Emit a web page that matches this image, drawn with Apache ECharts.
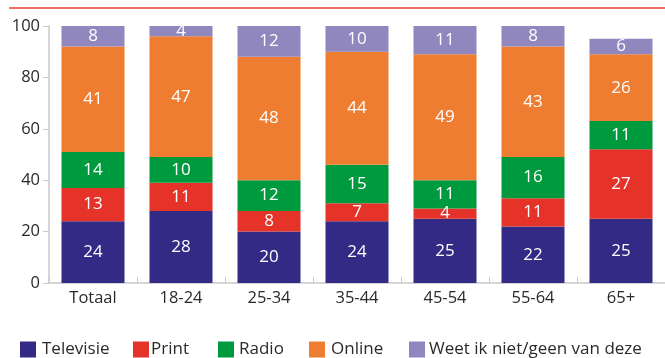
<!DOCTYPE html>
<html>
<head>
<meta charset="utf-8">
<script src="https://cdn.jsdelivr.net/npm/echarts@6/dist/echarts.min.js"></script>
<style>
  html, body { margin: 0; padding: 0; background: #fff; }
  #chart { width: 665px; height: 358px; }
</style>
</head>
<body>
<div id="chart"></div>
<script>
// Age groups along the x axis
var categories = ['Totaal', '18-24', '25-34', '35-44', '45-54', '55-64', '65+'];

// Share per medium (%) for each group
var televisie = [24, 28, 20, 24, 25, 22, 25];
var print     = [13, 11, 8, 7, 4, 11, 27];
var radio     = [14, 10, 12, 15, 11, 16, 11];
var online    = [41, 47, 48, 44, 49, 43, 26];
var weetNiet  = [8, 4, 12, 10, 11, 8, 6];

var seriesNames = ['Televisie', 'Print', 'Radio', 'Online', 'Weet ik niet/geen van deze'];
var seriesData = [televisie, print, radio, online, weetNiet];
var colors = ['#332a86', '#e5332a', '#009a3e', '#ef7d31', '#8f87be'];

// Legend entries are placed one by one along the bottom
var legendLeft = [20, 133, 218, 309, 409];
var legendTextShift = [1, -3, 0, 1, -1];

var FONT = '"Open Sans", "Noto Sans", sans-serif';

var chart = echarts.init(document.getElementById('chart'), null, { renderer: 'canvas' });

var series = seriesNames.map(function (name, i) {
  return {
    name: name,
    type: 'bar',
    stack: 'total',
    barWidth: 63,
    data: seriesData[i],
    itemStyle: { color: colors[i] },
    label: {
      show: true,
      position: 'inside',
      color: '#ffffff',
      fontFamily: FONT,
      fontSize: 17,
      formatter: '{c}'
    }
  };
});

var legends = seriesNames.map(function (name, i) {
  return {
    data: [name],
    left: legendLeft[i],
    top: 341,
    padding: 0,
    itemWidth: 16,
    itemHeight: 16,
    icon: 'rect',
    selectedMode: false,
    textStyle: {
      fontFamily: FONT, fontSize: 17, lineHeight: 17, color: '#2a2a2a',
      padding: [0, 0, 0, legendTextShift[i]]
    }
  };
});

chart.setOption({
  animation: false,
  color: colors,
  grid: { left: 49, right: 0, top: 26, bottom: 75, containLabel: false },
  legend: legends,
  graphic: [{
    type: 'line',
    shape: { x1: 9, y1: 8, x2: 665, y2: 8 },
    style: { stroke: '#e8392e', lineWidth: 1.5 }
  }],
  xAxis: {
    type: 'category',
    data: categories,
    axisLine: { lineStyle: { color: '#c8c8c8', width: 1.5 } },
    axisTick: { show: true, inside: true, length: 6, lineStyle: { color: '#c8c8c8' } },
    axisLabel: { color: '#2a2a2a', fontFamily: FONT, fontSize: 16.5, margin: 7 }
  },
  yAxis: {
    type: 'value',
    min: 0,
    max: 100,
    interval: 20,
    axisLine: { show: true, lineStyle: { color: '#c8c8c8', width: 1.5 } },
    axisTick: { show: true, length: 6, lineStyle: { color: '#c8c8c8' } },
    splitLine: { show: false },
    axisLabel: { color: '#2a2a2a', fontFamily: FONT, fontSize: 16.5, margin: 9 }
  },
  series: series
});
</script>
</body>
</html>
